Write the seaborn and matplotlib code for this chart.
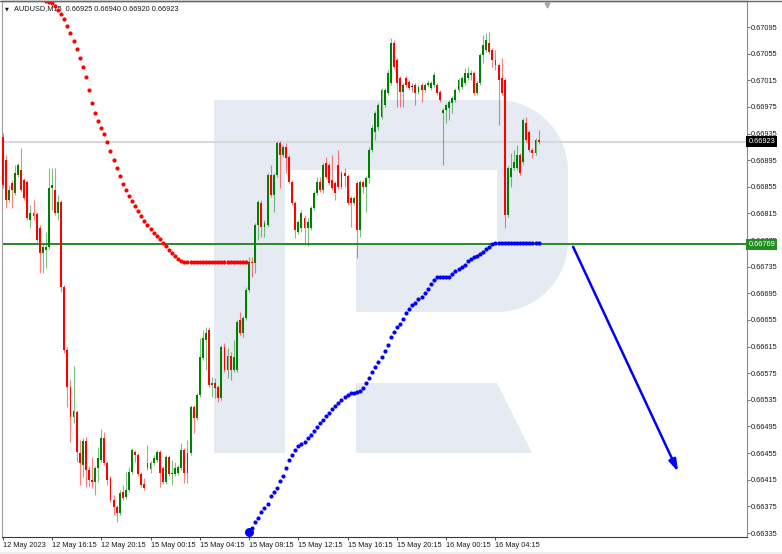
import numpy as np
import pandas as pd
import matplotlib
matplotlib.use("Agg")
import matplotlib.pyplot as plt
import seaborn as sns
from matplotlib.patches import Polygon, Rectangle
from matplotlib.lines import Line2D
from matplotlib.transforms import blended_transform_factory

# --- data ------------------------------------------------------------------

SYMBOL = "AUDUSD,M15"
LAST_OHLC = [0.66925, 0.66940, 0.66920, 0.66923]

opens = [
    0.66930, 0.66895, 0.66835, 0.66861, 0.66846, 0.66873, 0.66880, 0.66865, 0.66862, 0.66805,
    0.66816, 0.66814, 0.66793, 0.66756, 0.66760, 0.66765, 0.66853, 0.66850, 0.66816, 0.66832,
    0.66705, 0.66610, 0.66554, 0.66509, 0.66517, 0.66455, 0.66437, 0.66473, 0.66430, 0.66415,
    0.66412, 0.66433, 0.66445, 0.66478, 0.66440, 0.66418, 0.66385, 0.66374, 0.66365, 0.66397,
    0.66389, 0.66400, 0.66427, 0.66457, 0.66452, 0.66424, 0.66409, 0.66440, 0.66431, 0.66440,
    0.66445, 0.66457, 0.66433, 0.66412, 0.66449, 0.66424, 0.66424, 0.66425, 0.66433, 0.66460,
    0.66425, 0.66455, 0.66524, 0.66508, 0.66542, 0.66598, 0.66625, 0.66640, 0.66557, 0.66560,
    0.66554, 0.66538, 0.66614, 0.66580, 0.66601, 0.66580, 0.66580, 0.66655, 0.66635, 0.66658,
    0.66700, 0.66742, 0.66741, 0.66798, 0.66831, 0.66795, 0.66798, 0.66873, 0.66843, 0.66873,
    0.66921, 0.66903, 0.66915, 0.66900, 0.66862, 0.66831, 0.66787, 0.66793, 0.66808, 0.66793,
    0.66793, 0.66823, 0.66846, 0.66862, 0.66850, 0.66891, 0.66888, 0.66865, 0.66861, 0.66888,
    0.66855, 0.66876, 0.66871, 0.66838, 0.66831, 0.66861, 0.66790, 0.66862, 0.66855, 0.66868,
    0.66910, 0.66937, 0.66945, 0.66960, 0.66978, 0.66996, 0.67011, 0.67071, 0.67045, 0.67018,
    0.66997, 0.67018, 0.67012, 0.67005, 0.67008, 0.66997, 0.67008, 0.67000, 0.67008, 0.67003,
    0.67008, 0.67008, 0.66997, 0.66966, 0.66970, 0.66973, 0.66981, 0.66985, 0.67000, 0.67005,
    0.67011, 0.67018, 0.67023, 0.67026, 0.66996, 0.67011, 0.67053, 0.67060, 0.67071, 0.67060,
    0.67045, 0.67038, 0.67018, 0.67015, 0.66813, 0.66870, 0.66883, 0.66883, 0.66903, 0.66892,
    0.66951, 0.66937, 0.66910, 0.66906, 0.66925,
]
highs = [
    0.66936, 0.66903, 0.66858, 0.66865, 0.66888, 0.66891, 0.66913, 0.66868, 0.66865, 0.66828,
    0.66835, 0.66817, 0.66798, 0.66771, 0.66787, 0.66883, 0.66883, 0.66883, 0.66843, 0.66835,
    0.66708, 0.66614, 0.66565, 0.66586, 0.66520, 0.66475, 0.66478, 0.66479, 0.66436, 0.66449,
    0.66436, 0.66464, 0.66491, 0.66487, 0.66443, 0.66421, 0.66392, 0.66377, 0.66400, 0.66407,
    0.66427, 0.66434, 0.66463, 0.66460, 0.66455, 0.66427, 0.66418, 0.66467, 0.66443, 0.66452,
    0.66460, 0.66460, 0.66436, 0.66452, 0.66452, 0.66445, 0.66442, 0.66437, 0.66470, 0.66463,
    0.66475, 0.66527, 0.66527, 0.66545, 0.66628, 0.66640, 0.66644, 0.66644, 0.66569, 0.66568,
    0.66557, 0.66617, 0.66620, 0.66613, 0.66607, 0.66625, 0.66655, 0.66667, 0.66661, 0.66705,
    0.66750, 0.66750, 0.66801, 0.66835, 0.66835, 0.66805, 0.66876, 0.66888, 0.66876, 0.66924,
    0.66924, 0.66918, 0.66921, 0.66903, 0.66865, 0.66834, 0.66805, 0.66820, 0.66813, 0.66808,
    0.66826, 0.66849, 0.66870, 0.66870, 0.66891, 0.66900, 0.66891, 0.66903, 0.66864, 0.66910,
    0.66879, 0.66883, 0.66874, 0.66841, 0.66841, 0.66864, 0.66865, 0.66865, 0.66871, 0.66915,
    0.66948, 0.66969, 0.66981, 0.67003, 0.67003, 0.67030, 0.67078, 0.67075, 0.67048, 0.67021,
    0.67011, 0.67021, 0.67015, 0.67011, 0.67011, 0.67008, 0.67011, 0.67011, 0.67015, 0.67014,
    0.67027, 0.67011, 0.67000, 0.66973, 0.66981, 0.66985, 0.66991, 0.67003, 0.67018, 0.67021,
    0.67033, 0.67035, 0.67030, 0.67029, 0.67014, 0.67056, 0.67083, 0.67086, 0.67087, 0.67063,
    0.67060, 0.67041, 0.67048, 0.67018, 0.66886, 0.66906, 0.66910, 0.66918, 0.66906, 0.66958,
    0.66960, 0.66940, 0.66913, 0.66928, 0.66940,
]
lows = [
    0.66853, 0.66823, 0.66832, 0.66823, 0.66843, 0.66870, 0.66847, 0.66835, 0.66805, 0.66793,
    0.66805, 0.66772, 0.66726, 0.66726, 0.66733, 0.66762, 0.66820, 0.66813, 0.66805, 0.66697,
    0.66605, 0.66524, 0.66472, 0.66500, 0.66442, 0.66407, 0.66419, 0.66404, 0.66404, 0.66403,
    0.66392, 0.66412, 0.66442, 0.66437, 0.66407, 0.66382, 0.66362, 0.66352, 0.66362, 0.66385,
    0.66386, 0.66397, 0.66424, 0.66442, 0.66421, 0.66404, 0.66400, 0.66430, 0.66425, 0.66437,
    0.66442, 0.66404, 0.66409, 0.66409, 0.66421, 0.66407, 0.66421, 0.66422, 0.66430, 0.66410,
    0.66410, 0.66452, 0.66485, 0.66505, 0.66539, 0.66595, 0.66580, 0.66554, 0.66539, 0.66538,
    0.66532, 0.66535, 0.66577, 0.66568, 0.66565, 0.66577, 0.66577, 0.66632, 0.66629, 0.66655,
    0.66697, 0.66720, 0.66726, 0.66775, 0.66780, 0.66780, 0.66795, 0.66840, 0.66817, 0.66870,
    0.66853, 0.66900, 0.66876, 0.66859, 0.66828, 0.66778, 0.66784, 0.66787, 0.66768, 0.66766,
    0.66790, 0.66820, 0.66843, 0.66847, 0.66846, 0.66867, 0.66858, 0.66850, 0.66835, 0.66852,
    0.66852, 0.66855, 0.66828, 0.66795, 0.66828, 0.66748, 0.66780, 0.66846, 0.66817, 0.66861,
    0.66907, 0.66925, 0.66940, 0.66957, 0.66975, 0.66993, 0.67008, 0.67032, 0.66975, 0.66975,
    0.66975, 0.67005, 0.67000, 0.66997, 0.66978, 0.66994, 0.66982, 0.66997, 0.67005, 0.67000,
    0.67005, 0.66993, 0.66982, 0.66888, 0.66951, 0.66955, 0.66966, 0.66982, 0.66997, 0.67002,
    0.67008, 0.67015, 0.67015, 0.66993, 0.66993, 0.67008, 0.67041, 0.67057, 0.67054, 0.67035,
    0.67030, 0.66948, 0.66993, 0.66793, 0.66810, 0.66855, 0.66880, 0.66880, 0.66873, 0.66889,
    0.66922, 0.66907, 0.66898, 0.66903, 0.66920,
]
closes = [
    0.66858, 0.66835, 0.66850, 0.66850, 0.66876, 0.66888, 0.66850, 0.66838, 0.66808, 0.66816,
    0.66811, 0.66775, 0.66756, 0.66765, 0.66765, 0.66853, 0.66858, 0.66816, 0.66832, 0.66705,
    0.66610, 0.66554, 0.66509, 0.66518, 0.66457, 0.66440, 0.66473, 0.66430, 0.66415, 0.66412,
    0.66433, 0.66448, 0.66478, 0.66440, 0.66415, 0.66385, 0.66374, 0.66365, 0.66395, 0.66388,
    0.66400, 0.66427, 0.66460, 0.66452, 0.66424, 0.66407, 0.66403, 0.66433, 0.66440, 0.66448,
    0.66457, 0.66425, 0.66412, 0.66449, 0.66424, 0.66425, 0.66433, 0.66434, 0.66460, 0.66425,
    0.66455, 0.66524, 0.66508, 0.66542, 0.66599, 0.66628, 0.66635, 0.66557, 0.66560, 0.66553,
    0.66538, 0.66614, 0.66580, 0.66601, 0.66580, 0.66599, 0.66652, 0.66635, 0.66658, 0.66700,
    0.66742, 0.66741, 0.66798, 0.66832, 0.66795, 0.66801, 0.66873, 0.66843, 0.66873, 0.66921,
    0.66903, 0.66915, 0.66898, 0.66862, 0.66831, 0.66790, 0.66802, 0.66816, 0.66793, 0.66802,
    0.66823, 0.66846, 0.66862, 0.66850, 0.66888, 0.66870, 0.66861, 0.66853, 0.66846, 0.66855,
    0.66876, 0.66871, 0.66831, 0.66831, 0.66838, 0.66790, 0.66862, 0.66855, 0.66868, 0.66910,
    0.66943, 0.66966, 0.66978, 0.67000, 0.67000, 0.67026, 0.67071, 0.67035, 0.67011, 0.66997,
    0.67008, 0.67008, 0.67003, 0.67005, 0.66996, 0.67005, 0.67000, 0.67008, 0.67011, 0.67011,
    0.67023, 0.66996, 0.66985, 0.66970, 0.66978, 0.66982, 0.66988, 0.67000, 0.67015, 0.67018,
    0.67026, 0.67026, 0.67026, 0.66996, 0.67011, 0.67053, 0.67068, 0.67075, 0.67057, 0.67045,
    0.67038, 0.67015, 0.66996, 0.66813, 0.66883, 0.66883, 0.66892, 0.66903, 0.66876, 0.66955,
    0.66925, 0.66910, 0.66906, 0.66925, 0.66923,
]

# trailing stop dots (parabolic-style), first bar index of each run
RED_SAR_START = 13
red_sar = [
    0.67137,
    0.67134, 0.67133, 0.67131, 0.67127, 0.67121, 0.67115,
    0.67107, 0.67097, 0.67086, 0.67074, 0.67062, 0.67049, 0.67035, 0.67020, 0.67000, 0.66981,
    0.66966, 0.66954, 0.66943, 0.66934, 0.66922, 0.66909, 0.66895, 0.66883, 0.66871, 0.66859,
    0.66850, 0.66841, 0.66834, 0.66826, 0.66819, 0.66811, 0.66804, 0.66798, 0.66792, 0.66786,
    0.66781, 0.66777, 0.66771, 0.66766, 0.66760, 0.66756, 0.66751, 0.66747, 0.66744, 0.66742,
    0.66742, 0.66742, 0.66742, 0.66742, 0.66742, 0.66742, 0.66742, 0.66742, 0.66742, 0.66742,
    0.66742, 0.66742, 0.66742, 0.66742, 0.66742, 0.66742, 0.66742, 0.66742, 0.66742, 0.66742,
]
BLUE_SAR_START = 80
blue_sar = [
    0.66337, 0.66343, 0.66351, 0.66357, 0.66366, 0.66372, 0.66379, 0.66390, 0.66397, 0.66403,
    0.66413, 0.66421, 0.66433, 0.66444, 0.66452, 0.66460, 0.66466, 0.66468, 0.66472, 0.66478,
    0.66482, 0.66488, 0.66494, 0.66500, 0.66505, 0.66510, 0.66516, 0.66522, 0.66526, 0.66531,
    0.66535, 0.66539, 0.66542, 0.66545, 0.66546, 0.66547, 0.66549, 0.66553, 0.66560, 0.66568,
    0.66577, 0.66584, 0.66592, 0.66599, 0.66609, 0.66618, 0.66629, 0.66637, 0.66645, 0.66649,
    0.66656, 0.66665, 0.66671, 0.66677, 0.66681, 0.66686, 0.66690, 0.66696, 0.66701, 0.66709,
    0.66715, 0.66719, 0.66720, 0.66720, 0.66720, 0.66720, 0.66724, 0.66728, 0.66732, 0.66735,
    0.66738, 0.66743, 0.66746, 0.66749, 0.66751, 0.66754, 0.66757, 0.66762, 0.66765, 0.66769,
    0.66770, 0.66770, 0.66770, 0.66770, 0.66770, 0.66770, 0.66770, 0.66770, 0.66770, 0.66770,
    0.66770, 0.66770, 0.66770, 0.66770, 0.66770,
]

SUPPORT_LEVEL = 0.66769
BID_LEVEL = 0.66923

# forecast arrow: (bar index, price)
ARROW_FROM = (185.2, 0.66765)
ARROW_TO = (219.3, 0.66427)

time_ticks = [0, 16, 32, 48, 64, 80, 96, 112, 128, 144, 160]
time_labels = [
    "12 May 2023", "12 May 16:15", "12 May 20:15", "15 May 00:15", "15 May 04:15",
    "15 May 08:15", "15 May 12:15", "15 May 16:15", "15 May 20:15", "16 May 00:15",
    "16 May 04:15",
]
price_ticks = [
    0.66335, 0.66375, 0.66415, 0.66455, 0.66495, 0.66535, 0.66575, 0.66615, 0.66655, 0.66695,
    0.66735, 0.66775, 0.66815, 0.66855, 0.66895, 0.66935, 0.66975, 0.67015, 0.67055, 0.67095,
]

# --- styling ------------------------------------------------------------------

UP = "#008000"
DOWN = "#ff0000"
DOJI = "#222222"
LOGO = "#e5eaf3"
FONT = ["Liberation Sans", "DejaVu Sans"]
FS = 5.3

sns.set_style("white")
plt.rcParams["font.family"] = FONT

W, H = 782, 554
AX_L, AX_R, AX_T, AX_B = 1.5, 746.5, 1.0, 537.0

fig = plt.figure(figsize=(W / 100, H / 100), dpi=100)
ax = fig.add_axes([AX_L / W, (H - AX_B) / H, (AX_R - AX_L) / W, (AX_B - AX_T) / H])
ax.set_xlim(-0.39, 241.5)
ax.set_ylim(0.66329, 0.671341)


def px(x, y):
    """screen pixel -> axes fraction (used for the watermark only)"""
    return ((x - AX_L) / (AX_R - AX_L), (AX_B - y) / (AX_B - AX_T))


# RoboForex-style "R" watermark
t = np.linspace(np.pi / 2, 0, 20)
top_arc = [(497 + 71 * np.cos(a), 171 - 71 * np.sin(a)) for a in t]
bot_arc = [(497 + 71 * np.cos(a), 241 + 71 * np.sin(a)) for a in t[::-1]]
r_body = ([(214, 100), (497, 100)] + top_arc + [(568, 241)] + bot_arc
          + [(356, 312), (356, 243), (497, 243), (497, 170), (285, 170),
             (285, 453), (214, 453)])
r_leg = [(356, 383), (497, 383), (532, 453), (356, 453)]
for shape in (r_body, r_leg):
    ax.add_patch(Polygon([px(*p) for p in shape], closed=True, transform=ax.transAxes,
                         fc=LOGO, ec="none", zorder=0))

# candles
df = pd.DataFrame({"open": opens, "high": highs, "low": lows, "close": closes})
df["bar"] = np.arange(len(df))
df["color"] = np.where(df["close"] > df["open"], UP,
                       np.where(df["close"] < df["open"], DOWN, DOJI))
body_lo = df[["open", "close"]].min(axis=1)
body_h = (df["close"] - df["open"]).abs().clip(lower=0.000013)

ax.axhline(BID_LEVEL, color="#d9d9d9", lw=1.5, zorder=1)
ax.vlines(df["bar"], df["low"], df["high"], colors=df["color"], lw=0.8, alpha=0.5, zorder=3)
ax.bar(df["bar"], body_h, bottom=body_lo, width=0.62, color=df["color"], lw=0, zorder=4)
ax.axhline(SUPPORT_LEVEL, color="#2a8a2a", lw=1.4, zorder=2)

# trailing dots
red_df = pd.DataFrame({"bar": np.arange(RED_SAR_START, RED_SAR_START + len(red_sar)),
                       "price": red_sar})
blue_df = pd.DataFrame({"bar": np.arange(BLUE_SAR_START, BLUE_SAR_START + len(blue_sar)),
                        "price": blue_sar})
sns.scatterplot(data=red_df, x="bar", y="price", color="#ff0000", s=9, linewidth=0,
                ax=ax, zorder=5, legend=False)
sns.scatterplot(data=blue_df, x="bar", y="price", color="#0000ff", s=9, linewidth=0,
                ax=ax, zorder=5, legend=False)
sns.scatterplot(data=blue_df.iloc[:1], x="bar", y="price", color="#0000ff", s=42,
                linewidth=0, ax=ax, zorder=5, legend=False)

ax.annotate("", xy=ARROW_TO, xytext=ARROW_FROM, zorder=6,
            arrowprops=dict(arrowstyle="-|>,head_length=0.7,head_width=0.22",
                            color="#0000ff", lw=1.8, shrinkA=0, shrinkB=0))

# axes, ticks
ax.set_xlabel("")
ax.set_ylabel("")
ax.yaxis.tick_right()
ax.set_yticks(price_ticks)
ax.set_yticklabels([f"{v:.5f}" for v in price_ticks])
ax.set_xticks(time_ticks)
ax.set_xticklabels(time_labels, ha="left")
ax.tick_params(axis="y", direction="out", length=2.2, width=0.6, pad=0.8,
               labelsize=FS, color="#555555", labelcolor="#1a1a1a", right=True, left=False)
ax.tick_params(axis="x", direction="out", length=2.2, width=0.6, pad=1.2,
               labelsize=FS, color="#333333", labelcolor="#1a1a1a", bottom=True)
for side, col, lw in [("left", "#a0a0a0", 0.8), ("right", "#8a8a8a", 0.8),
                      ("bottom", "#3a3a3a", 0.8), ("top", "#6a6a6a", 1.0)]:
    ax.spines[side].set_visible(True)
    ax.spines[side].set_color(col)
    ax.spines[side].set_linewidth(lw)

# price tags on the right axis
yx = blended_transform_factory(ax.transAxes, ax.transData)
ax.text(1.0 + 1.8 / 745, BID_LEVEL, f"{BID_LEVEL:.5f}", transform=yx, va="center", ha="left",
        fontsize=FS, color="white", zorder=7,
        bbox=dict(boxstyle="square,pad=0.28", fc="black", ec="none"))
ax.text(1.0 + 1.8 / 745, SUPPORT_LEVEL, f"{SUPPORT_LEVEL:.5f}", transform=yx, va="center",
        ha="left", fontsize=FS, color="white", zorder=7,
        bbox=dict(boxstyle="square,pad=0.28", fc="#1f8f1f", ec="none"))

# header line
hx, hy = px(5, 9)
ax.text(hx, hy, "\u25bc", transform=ax.transAxes, fontsize=3.6, va="center", ha="left",
        color="#1a1a1a", family=["DejaVu Sans"], zorder=4)
hx, hy = px(14, 9)
ax.text(hx, hy, SYMBOL + "  " + " ".join(f"{v:.5f}" for v in LAST_OHLC),
        transform=ax.transAxes, fontsize=FS, va="center", ha="left", color="#1a1a1a", zorder=4)

# chart shift marker right after the last bar
xy = blended_transform_factory(ax.transData, ax.transAxes)
ax.plot([len(df) + 1.7], [0.993], marker="v", ms=3.5, color="#a8a8a8", transform=xy,
        clip_on=False, zorder=7)

fig.add_artist(Line2D([0, 1], [1 - 0.8 / H, 1 - 0.8 / H], transform=fig.transFigure,
                      color="#6a6a6a", lw=1.0))
fig.patches.append(Rectangle((0, 0), 1, 2.5 / H, transform=fig.transFigure,
                             fc="#eeeeee", ec="none"))

fig.savefig("out.png", dpi=100)
